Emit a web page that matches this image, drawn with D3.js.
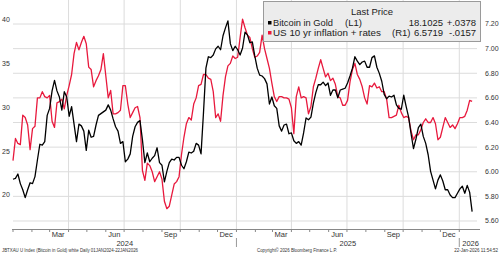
<!DOCTYPE html>
<html>
<head>
<meta charset="utf-8">
<script src="https://cdn.jsdelivr.net/npm/d3@7"></script>
<style>
	html, body { margin: 0; padding: 0; background: #fff; }
	svg { display: block; font-family: 'Liberation Sans', Arial, sans-serif; }
</style>
</head>
<body>
<svg id="chart" width="500" height="254"></svg>
<script>
/**** DATA *****/
// sampled every 4 days off the Bloomberg chart
const dates = [
	"2024-01-01","2024-01-05","2024-01-09","2024-01-13","2024-01-17","2024-01-21","2024-01-25","2024-01-29",
	"2024-02-02","2024-02-06","2024-02-10","2024-02-14","2024-02-18","2024-02-22","2024-02-26",
	"2024-03-01","2024-03-05","2024-03-09","2024-03-13","2024-03-17","2024-03-21","2024-03-25","2024-03-29",
	"2024-04-02","2024-04-06","2024-04-10","2024-04-14","2024-04-18","2024-04-22","2024-04-26","2024-04-30",
	"2024-05-04","2024-05-08","2024-05-12","2024-05-16","2024-05-20","2024-05-24","2024-05-28",
	"2024-06-01","2024-06-05","2024-06-09","2024-06-13","2024-06-17","2024-06-21","2024-06-25","2024-06-29",
	"2024-07-03","2024-07-07","2024-07-11","2024-07-15","2024-07-19","2024-07-23","2024-07-27","2024-07-31",
	"2024-08-04","2024-08-08","2024-08-12","2024-08-16","2024-08-20","2024-08-24","2024-08-28",
	"2024-09-01","2024-09-05","2024-09-09","2024-09-13","2024-09-17","2024-09-21","2024-09-25","2024-09-29",
	"2024-10-03","2024-10-07","2024-10-11","2024-10-15","2024-10-19","2024-10-23","2024-10-27","2024-10-31",
	"2024-11-04","2024-11-08","2024-11-12","2024-11-16","2024-11-20","2024-11-24","2024-11-28",
	"2024-12-02","2024-12-06","2024-12-10","2024-12-14","2024-12-18","2024-12-22","2024-12-26","2024-12-30",
	"2025-01-03","2025-01-07","2025-01-11","2025-01-15","2025-01-19","2025-01-23","2025-01-27","2025-01-31",
	"2025-02-04","2025-02-08","2025-02-12","2025-02-16","2025-02-20","2025-02-24","2025-02-28",
	"2025-03-04","2025-03-08","2025-03-12","2025-03-16","2025-03-20","2025-03-24","2025-03-28",
	"2025-04-01","2025-04-05","2025-04-09","2025-04-13","2025-04-17","2025-04-21","2025-04-25","2025-04-29",
	"2025-05-03","2025-05-07","2025-05-11","2025-05-15","2025-05-19","2025-05-23","2025-05-27","2025-05-31",
	"2025-06-04","2025-06-08","2025-06-12","2025-06-16","2025-06-20","2025-06-24","2025-06-28",
	"2025-07-02","2025-07-06","2025-07-10","2025-07-14","2025-07-18","2025-07-22","2025-07-26","2025-07-30",
	"2025-08-03","2025-08-07","2025-08-11","2025-08-15","2025-08-19","2025-08-23","2025-08-27","2025-08-31",
	"2025-09-04","2025-09-08","2025-09-12","2025-09-16","2025-09-20","2025-09-24","2025-09-28",
	"2025-10-02","2025-10-06","2025-10-10","2025-10-14","2025-10-18","2025-10-22","2025-10-26","2025-10-30",
	"2025-11-03","2025-11-07","2025-11-11","2025-11-15","2025-11-19","2025-11-23","2025-11-27",
	"2025-12-01","2025-12-05","2025-12-09","2025-12-13","2025-12-17","2025-12-21","2025-12-25","2025-12-29",
	"2026-01-02","2026-01-06","2026-01-10","2026-01-14","2026-01-18","2026-01-22"
];

// Bitcoin in Gold (L1)
const bitcoinInGold = [
	21.8,21.9,22.4,21.3,20.6,19.7,20.6,21.4,
	21.3,22.1,24.0,25.8,25.7,26.1,29.1,
	29.9,31.9,33.1,31.9,31.2,29.7,31.8,31.2,
	29.0,30.1,28.1,26.1,28.1,27.9,27.3,25.1,
	27.4,26.6,26.7,28.0,29.1,29.3,29.5,
	29.7,30.3,29.7,28.7,27.8,27.3,25.9,26.1,
	23.8,24.1,24.7,26.7,27.8,28.3,28.5,26.3,
	23.7,24.8,23.8,24.2,24.5,25.4,23.7,
	23.4,21.5,22.7,23.7,24.1,24.0,24.3,24.3,
	23.4,23.0,23.8,24.9,24.8,25.0,25.9,25.7,
	24.7,29.4,34.5,35.8,35.7,36.0,36.7,
	37.0,36.6,38.2,39.1,39.9,37.3,36.5,37.0,
	36.6,36.0,36.8,38.6,38.3,37.4,37.5,35.9,
	34.5,33.7,33.6,33.3,32.7,30.4,31.2,
	30.2,29.9,27.9,27.3,28.0,28.1,27.0,
	27.1,26.2,25.9,26.1,25.7,27.1,28.8,28.6,
	28.9,30.5,31.7,32.6,32.6,32.9,32.5,32.8,
	31.4,32.0,32.0,31.1,32.0,32.1,32.2,
	32.8,33.6,34.5,35.8,35.3,34.9,35.2,35.3,
	34.6,34.6,35.7,35.9,34.6,33.9,33.0,31.5,
	31.0,31.3,31.2,31.4,30.3,29.9,29.8,
	31.4,30.1,28.9,27.0,25.3,26.4,27.7,28.1,
	26.7,25.9,24.6,22.7,21.7,20.7,21.7,
	22.3,21.6,20.6,20.6,20.0,19.7,19.7,20.2,
	20.7,21.0,20.2,21.1,20.3,18.1025
];

// US 10 yr inflation + rates (R1)
const usInflationRates = [
	6.09,6.27,6.23,6.22,6.46,6.44,6.38,6.18,
	6.35,6.37,6.60,6.60,6.65,6.61,6.60,
	6.62,6.41,6.36,6.56,6.57,6.59,6.51,6.62,
	6.70,6.79,6.96,7.05,6.99,7.05,7.10,7.04,
	6.85,6.83,6.69,6.74,6.78,6.83,6.96,
	6.78,6.60,6.66,6.47,6.47,6.48,6.50,6.70,
	6.70,6.55,6.44,6.48,6.52,6.53,6.44,6.01,
	5.93,6.07,6.05,6.00,5.92,5.96,6.00,
	5.94,5.76,5.70,5.72,5.81,5.90,5.92,5.96,
	6.14,6.28,6.39,6.44,6.42,6.55,6.60,6.70,
	6.71,6.79,6.79,6.76,6.75,6.65,6.44,
	6.47,6.41,6.62,6.77,6.86,6.88,6.94,6.92,
	6.93,7.09,7.24,7.17,7.11,7.09,7.00,6.93,
	6.94,6.97,7.11,7.00,6.92,6.84,6.72,
	6.61,6.57,6.61,6.61,6.60,6.60,6.59,
	6.52,6.31,6.61,6.69,6.60,6.61,6.60,6.47,
	6.53,6.69,6.76,6.84,6.91,6.84,6.77,6.80,
	6.74,6.76,6.71,6.61,6.60,6.54,6.54,
	6.58,6.73,6.83,6.88,6.79,6.75,6.69,6.60,
	6.55,6.70,6.69,6.72,6.68,6.69,6.65,6.65,
	6.59,6.44,6.44,6.45,6.46,6.54,6.48,
	6.44,6.45,6.44,6.33,6.26,6.30,6.30,6.34,
	6.40,6.43,6.40,6.40,6.44,6.39,6.26,
	6.28,6.36,6.44,6.40,6.36,6.38,6.35,6.39,
	6.44,6.44,6.45,6.50,6.58,6.5719
];

const leftTicks = [20, 25, 30, 35, 40];
const rightTicks = [5.6, 5.8, 6.0, 6.2, 6.4, 6.6, 6.8, 7.0, 7.2];
const monthLabelDates = ["2024-03-15","2024-06-15","2024-09-15","2024-12-15","2025-03-15","2025-06-15","2025-09-15","2025-12-15"];
const yearLabels = ["2024", "2025", "2026"];

const seriesNames = ["Bitcoin in Gold", "US 10 yr inflation + rates"];
const axisTags = ["(L1)", "(R1)"];
const lastValues = ["18.1025", "6.5719"];
const changes = ["+.0378", "-.0157"];
const seriesColors = ["#000000", "#e8193d"];

const footLeft = "JBTXAU U Index (Bitcoin in Gold) white Daily 01JAN2024-22JAN2026";
const footMid = "Copyright\u00a9 2026 Bloomberg Finance L.P.";
const footRight = "22-Jan-2026 11:54:52";


/**** CHART *****/
const svg = d3.select('#chart');
const parse = d3.timeParse('%Y-%m-%d');
const plotLeft = 13, plotRight = 477, plotTop = 0, plotBottom = 229;
const gridColor = '#dcdcdc';
const textColor = '#333';

const x = d3.scaleTime()
	.domain([parse('2024-01-01'), parse('2026-01-30')])
	.range([plotLeft, plotRight]);
const yL = d3.scaleLinear().domain([16.114, 42.286]).range([plotBottom, plotTop]);
const yR = d3.scaleLinear().domain([5.535, 7.395]).range([plotBottom, plotTop]);

const parsed = dates.map(parse);
const black = parsed.map((d, i) => ({date: d, value: bitcoinInGold[i]}));
const red = parsed.map((d, i) => ({date: d, value: usInflationRates[i]}));

// horizontal grid follows the right axis
svg.append('g').selectAll('line').data(rightTicks).join('line')
	.attr('x1', plotLeft).attr('x2', plotRight)
	.attr('y1', d => yR(d)).attr('y2', d => yR(d))
	.attr('stroke', gridColor).attr('stroke-width', 1);

// quarter lines
const quarters = d3.timeMonth.every(3).range(parse('2024-02-01'), parse('2026-01-02'));
svg.append('g').selectAll('line').data(quarters).join('line')
	.attr('x1', d => x(d)).attr('x2', d => x(d))
	.attr('y1', plotTop).attr('y2', plotBottom)
	.attr('stroke', gridColor).attr('stroke-width', 1);

// bottom axis line + monthly ticks
svg.append('line')
	.attr('x1', plotLeft - 1).attr('x2', plotRight + 3)
	.attr('y1', plotBottom + 0.5).attr('y2', plotBottom + 0.5)
	.attr('stroke', '#888');
const months = d3.timeMonth.range(parse('2024-01-01'), parse('2026-02-01'));
svg.append('g').selectAll('line').data(months).join('line')
	.attr('x1', d => x(d)).attr('x2', d => x(d))
	.attr('y1', plotBottom).attr('y2', plotBottom + 3)
	.attr('stroke', '#888');

svg.append('g').selectAll('text').data(monthLabelDates).join('text')
	.attr('x', d => x(parse(d))).attr('y', 237)
	.attr('text-anchor', 'middle').attr('font-size', '7.5px').attr('fill', textColor)
	.text(d => d3.timeFormat('%b')(parse(d)));

// year labels and separators
const yearStarts = yearLabels.map(y => parse(y + '-01-01'));
svg.append('g').selectAll('line').data(yearStarts.slice(1)).join('line')
	.attr('x1', d => x(d)).attr('x2', d => x(d))
	.attr('y1', 238).attr('y2', 247)
	.attr('stroke', '#999');
svg.append('g').selectAll('text').data(yearLabels).join('text')
	.attr('x', (d, i) => i < 2 ? (x(yearStarts[i]) + x(yearStarts[i + 1])) / 2 : x(yearStarts[i]) + 3)
	.attr('y', 246)
	.attr('text-anchor', (d, i) => i < 2 ? 'middle' : 'start')
	.attr('font-size', '7.5px').attr('fill', textColor)
	.text(d => d);

// y labels
svg.append('g').selectAll('text').data(leftTicks).join('text')
	.attr('x', 2).attr('y', d => yL(d)).attr('dy', '0.35em')
	.attr('font-size', '7px').attr('fill', textColor)
	.text(d => d);
svg.append('g').selectAll('text').data(rightTicks).join('text')
	.attr('x', 485).attr('y', d => yR(d)).attr('dy', '0.35em')
	.attr('font-size', '7px').attr('fill', textColor)
	.text(d => d3.format('.2f')(d));

// lines
const lineR = d3.line().x(d => x(d.date)).y(d => yR(d.value));
const lineL = d3.line().x(d => x(d.date)).y(d => yL(d.value));
svg.append('path').datum(red)
	.attr('d', lineR).attr('fill', 'none')
	.attr('stroke', seriesColors[1]).attr('stroke-width', 1.3).attr('stroke-linejoin', 'round');
svg.append('path').datum(black)
	.attr('d', lineL).attr('fill', 'none')
	.attr('stroke', seriesColors[0]).attr('stroke-width', 1.3).attr('stroke-linejoin', 'round');

// legend box
const legend = svg.append('g');
legend.append('rect')
	.attr('x', 263.5).attr('y', 1.5).attr('width', 217).attr('height', 40)
	.attr('fill', '#ececec').attr('stroke', '#9a9a9a');
legend.append('text').text('Last Price')
	.attr('x', 372).attr('y', 15).attr('text-anchor', 'middle')
	.attr('font-size', '9.5px').attr('fill', '#222');
const nameWidths = [60, 108];
const tagX = [345, 392];
const rows = legend.selectAll('g.row').data(seriesNames).join('g').attr('class', 'row')
	.attr('transform', (d, i) => `translate(0,${26 + i * 10})`);
rows.append('rect').attr('x', 268).attr('y', -5).attr('width', 3.5).attr('height', 3.5)
	.attr('fill', (d, i) => seriesColors[i]);
rows.append('text').attr('x', 273).text(d => d)
	.attr('textLength', (d, i) => nameWidths[i]).attr('lengthAdjust', 'spacingAndGlyphs')
	.attr('font-size', '9.5px').attr('fill', '#222');
rows.append('text').attr('x', (d, i) => tagX[i]).text((d, i) => axisTags[i])
	.attr('font-size', '9.5px').attr('fill', '#222');
rows.append('text').attr('x', 443).attr('text-anchor', 'end').text((d, i) => lastValues[i])
	.attr('font-size', '9.5px').attr('fill', '#222');
rows.append('text').attr('x', 476).attr('text-anchor', 'end').text((d, i) => changes[i])
	.attr('font-size', '9.5px').attr('fill', '#222');

// footer
svg.append('text').text(footLeft)
	.attr('x', 2).attr('y', 252).attr('font-size', '4.5px').attr('fill', textColor)
	.attr('textLength', 136).attr('lengthAdjust', 'spacingAndGlyphs');
svg.append('text').text(footMid)
	.attr('x', 257).attr('y', 252).attr('font-size', '4.5px').attr('fill', textColor)
	.attr('textLength', 80).attr('lengthAdjust', 'spacingAndGlyphs');
svg.append('text').text(footRight)
	.attr('x', 498).attr('y', 252).attr('text-anchor', 'end').attr('font-size', '4.5px').attr('fill', textColor);
</script>
</body>
</html>
